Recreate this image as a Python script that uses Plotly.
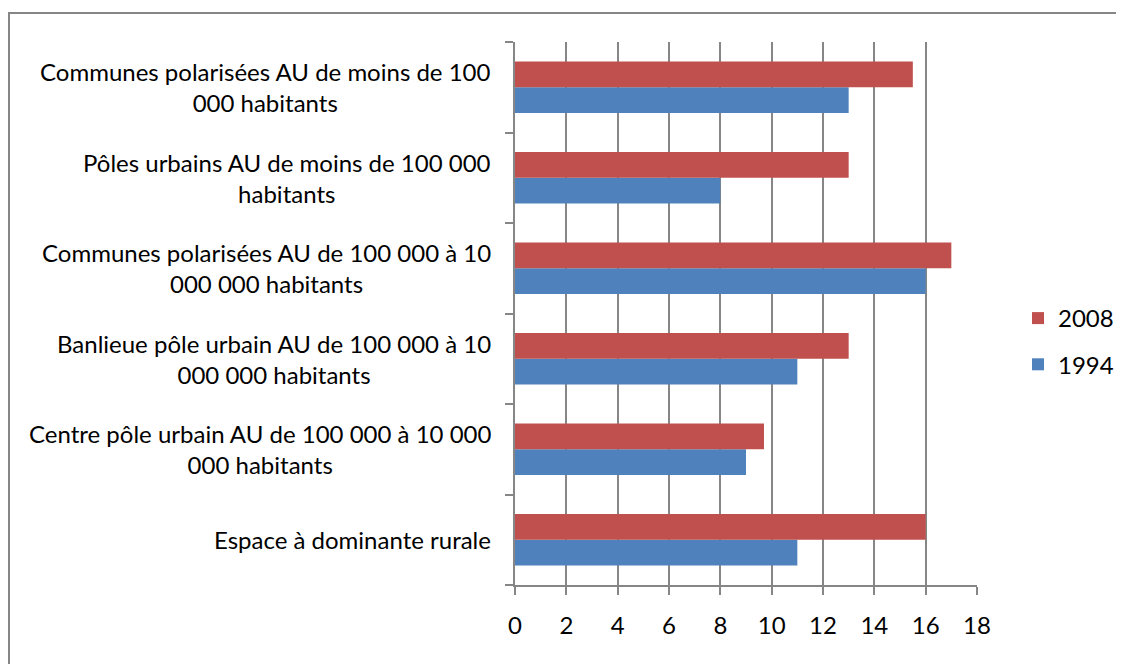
import plotly.graph_objects as go

categories = [
    "Espace à dominante rurale",
    "Centre pôle urbain AU de 100 000 à 10 000 000 habitants",
    "Banlieue pôle urbain AU de 100 000 à 10 000 000 habitants",
    "Communes polarisées AU de 100 000 à 10 000 000 habitants",
    "Pôles urbains AU de moins de 100 000 habitants",
    "Communes polarisées AU de moins de 100 000 habitants",
]
labels = [
    "Espace à dominante rurale",
    "Centre pôle urbain AU de 100 000 à 10 000<br>000 habitants",
    "Banlieue pôle urbain AU de 100 000 à 10<br>000 000 habitants",
    "Communes polarisées AU de 100 000 à 10<br>000 000 habitants",
    "Pôles urbains AU de moins de 100 000<br>habitants",
    "Communes polarisées AU de moins de 100<br>000 habitants",
]
values_1994 = [11, 9, 11, 16, 8, 13]
values_2008 = [16, 9.7, 13, 17, 13, 15.5]
x_ticks = [0, 2, 4, 6, 8, 10, 12, 14, 16, 18]

# figure pixel geometry (page body adds an 8px offset)
W, H = 1116, 656
L, R, T, B = 507, 969, 34, 577
FONT = "Lato, 'Open Sans', sans-serif"
FS = 24
GRAY = "#868686"

def px(xp):
    return (xp - L) / (R - L)

def py(yp):
    return (B - yp) / (B - T)

fig = go.Figure()
fig.add_trace(go.Bar(y=categories, x=values_1994, orientation="h", name="1994",
                     marker=dict(color="#4F81BD", line=dict(width=0)),
                     legendgroup="a", legendrank=2))
fig.add_trace(go.Bar(y=categories, x=values_2008, orientation="h", name="2008",
                     marker=dict(color="#C0504D", line=dict(width=0)),
                     legendgroup="b", legendrank=1))

for cat, lab in zip(categories, labels):
    fig.add_annotation(x=px(485), xref="paper", y=cat, yref="y",
                       text=lab, showarrow=False, xanchor="right", align="center",
                       font=dict(family=FONT, size=FS, color="#000000"))

# outer border (extends beyond the picture at right and bottom)
fig.add_shape(type="rect", xref="paper", yref="paper",
              x0=px(1), x1=px(1130), y0=py(670), y1=py(5),
              line=dict(color=GRAY, width=2), fillcolor="rgba(0,0,0,0)")

fig.update_layout(
    width=W, height=H, autosize=False,
    margin=dict(l=L, r=W - R, t=T, b=H - B, autoexpand=False, pad=0),
    paper_bgcolor="white", plot_bgcolor="white",
    barmode="group", bargap=0.433, bargroupgap=0,
    font=dict(family=FONT, size=FS, color="#000000"),
    legend=dict(x=px(1010), xanchor="left", y=py(288), yanchor="top",
                traceorder="grouped", tracegroupgap=12, font=dict(size=FS),
                itemwidth=30, bgcolor="rgba(0,0,0,0)"),
    xaxis=dict(range=[0, 18], tickvals=x_ticks, showgrid=True, gridcolor=GRAY, gridwidth=1.5,
               showline=True, linecolor=GRAY, linewidth=1.5, ticks="outside", ticklen=8,
               tickcolor=GRAY, tickwidth=1.5, zeroline=False, ticklabelstandoff=10,
               tickfont=dict(size=FS)),
    yaxis=dict(showticklabels=False, showline=True, linecolor=GRAY, linewidth=1.5,
               ticks="outside", ticklen=8, tickcolor=GRAY, tickwidth=1.5,
               tickson="boundaries", showgrid=False, categoryorder="array",
               categoryarray=categories),
)
fig.write_html("out.html")
